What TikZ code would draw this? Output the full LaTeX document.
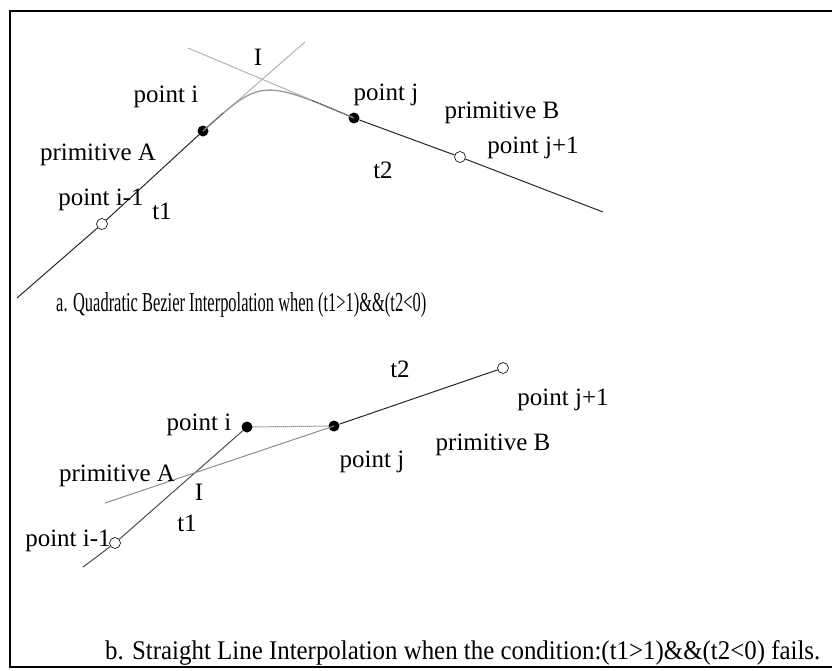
\documentclass[tikz,border=0pt]{standalone}
\usepackage{fontspec}
\setmainfont{Liberation Serif}
\usetikzlibrary{positioning,calc}

\tikzset{
  lbl/.style={inner sep=0pt, font=\fontsize{25}{27}\selectfont},
  fdot/.style={circle, fill=black, minimum size=11pt, inner sep=0pt},
  odot/.style={circle, draw=black, fill=white, line width=0.6pt, minimum size=11pt, inner sep=0pt},
  pline/.style={line width=1pt, black!85},
  ghost/.style={line width=1pt, black!30},
  dline/.style={line width=1pt, black!70, densely dotted}
}

\begin{document}
\begin{tikzpicture}[x=1pt,y=-1pt]
\useasboundingbox (0,0) rectangle (832,670);
% frame, open at the right
\draw[line width=2.4pt] (840,11) -- (10,11) -- (10,667) -- (840,667);

% a. quadratic bezier
\coordinate (a0) at (17,298);
\coordinate (aend) at (305,42);
\coordinate (b0) at (188,48);
\coordinate (bend) at (603,212);
\node[odot] (pim1) at (102,224) {};
\node[fdot] (pi) at (203,131) {};
\node[fdot] (pj) at (354,118) {};
\node[odot] (pjp1) at (460,157) {};
\coordinate (I) at (intersection of a0--pi and b0--pj);

\draw[ghost] (pi.center) -- (aend);
\draw[ghost] (b0) -- (pj.center);
\draw[pline] (a0) -- (pim1) -- (pi);
\draw[pline] (pj) -- (pjp1) -- (bend);
\draw[ghost, line width=1.3pt, black!40] (pi.center) .. controls (I) .. (pj.center);
\draw[dline] (pi.center) -- ($(pi.center)!0.35!(I)$);
\draw[dline] (pj.center) -- ($(pj.center)!0.45!(I)$);

\node[lbl] (lI) at (258,57) {I};
\node[lbl] (lpi) at (166,97) {point i};
\node[lbl] (lpj) at (386,95) {point j};
\node[lbl] (lpa) at (98,155) {primitive A};
\node[lbl] (lpim1) at (101,200) {point i-1};
\node[lbl] (lt1) at (162,211) {t1};
\node[lbl] (lt2) at (383,170) {t2};
\node[lbl] (lpb) at (502,113) {primitive B};
\node[lbl] (lpjp1) at (533,148) {point j+1};
\node[inner sep=0pt, anchor=base west] (capa) at (56,311)
  {\resizebox{370pt}{19pt}{a. Quadratic Bezier Interpolation when (t1>1)\&\&(t2<0)}};

% b. straight line
\coordinate (c0) at (83,567);
\coordinate (d0) at (105,503);
\node[odot] (qim1) at (115,543) {};
\node[fdot] (qi) at (247,427) {};
\node[fdot] (qj) at (334,426) {};
\node[odot] (qjp1) at (503,368) {};

\draw[pline, black!70] (c0) -- (qim1) -- (qi);
\draw[ghost, black!45] (d0) -- (qj.center);
\draw[dline] (qi) -- (qj);
\draw[pline] (qj) -- (qjp1);

\node[lbl] (mt2) at (400,369) {t2};
\node[lbl] (mpi) at (199,425) {point i};
\node[lbl] (mpj) at (372,462) {point j};
\node[lbl] (mpjp1) at (563,400) {point j+1};
\node[lbl] (mpb) at (493,445) {primitive B};
\node[lbl] (mpa) at (117,476) {primitive A};
\node[lbl] (mI) at (199,492) {I};
\node[lbl] (mt1) at (187,523) {t1};
\node[lbl] (mpim1) at (68,541) {point i-1};
\node[inner sep=0pt, anchor=base west] (capb) at (105,659)
  {\resizebox{715pt}{19pt}{b. Straight Line Interpolation when the condition:(t1>1)\&\&(t2<0) fails.}};
\end{tikzpicture}
\end{document}
